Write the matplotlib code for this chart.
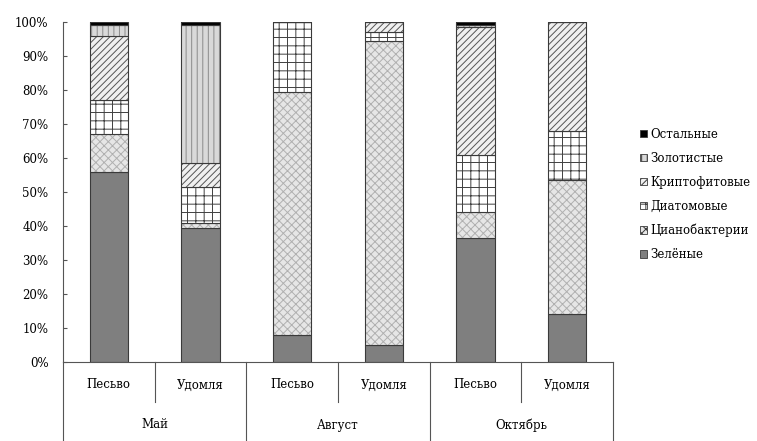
import matplotlib
matplotlib.use("Agg")
import matplotlib.pyplot as plt
import matplotlib.transforms as mtransforms
from matplotlib.patches import Patch
import numpy as np

plt.rcParams['font.family'] = ['DejaVu Serif', 'Liberation Serif']
plt.rcParams['hatch.linewidth'] = 0.7

months = ["Май", "Август", "Октябрь"]
sites = ["Песьво", "Удомля", "Песьво", "Удомля", "Песьво", "Удомля"]

series_names = ["Зелёные", "Цианобактерии", "Диатомовые", "Криптофитовые", "Золотистые", "Остальные"]
green = [56, 39.5, 8, 5, 36.5, 14]
cyano = [11, 1.5, 71.5, 89.5, 7.5, 39.5]
diatoms = [10, 10.5, 20.5, 2.5, 17, 14.5]
crypto = [19, 7, 0, 3, 37.5, 32]
golden = [3, 40.5, 0, 0, 0.5, 0]
others = [1, 1, 0, 0, 1, 0]

series = [green, cyano, diatoms, crypto, golden, others]
styles = [
    dict(facecolor="#7f7f7f", hatch=None, hcolor="#5a5a5a"),
    dict(facecolor="#e6e6e6", hatch="xxxx", hcolor="#b0b0b0"),
    dict(facecolor="#ffffff", hatch="++", hcolor="#404040"),
    dict(facecolor="#f0f0f0", hatch="/////", hcolor="#555555"),
    dict(facecolor="#d9d9d9", hatch="|||", hcolor="#8a8a8a"),
    dict(facecolor="#000000", hatch=None, hcolor="#000000"),
]

fs = 8.5
fig = plt.figure(figsize=(7.57, 4.41), dpi=100)
ax = fig.add_axes([63 / 757, 1 - 362 / 441, (613 - 63) / 757, (362 - 22) / 441])

x = np.arange(len(sites))
width = 0.42
bottom = np.zeros(len(sites))
for vals, st in zip(series, styles):
    v = np.array(vals, dtype=float)
    ax.bar(x, v, width, bottom=bottom, color=st["facecolor"], hatch=st["hatch"],
           edgecolor=st["hcolor"], linewidth=0)
    ax.bar(x, v, width, bottom=bottom, fill=False, edgecolor="#3a3a3a", linewidth=0.8)
    bottom += v

ax.set_xlim(-0.5, len(sites) - 0.5)
ax.set_ylim(0, 100)
ax.set_yticks(np.arange(0, 101, 10))
ax.set_yticklabels([f"{t}%" for t in range(0, 101, 10)], fontsize=fs)
ax.tick_params(axis='y', direction='in', length=3, width=0.8, color="#555555", pad=10.5)
ax.set_xticks([])
for s in ["top", "right"]:
    ax.spines[s].set_visible(False)
for s in ["left", "bottom"]:
    ax.spines[s].set_color("#555555")
    ax.spines[s].set_linewidth(0.8)

# two-level category axis
trans = mtransforms.blended_transform_factory(ax.transData, ax.transAxes)
h = 340.0
short = -40 / h
long_ = -80 / h
for i in range(len(sites)):
    ax.text(i, -23 / h, sites[i], transform=trans, ha="center", va="center",
            fontsize=fs, clip_on=False)
for k in range(len(months)):
    ax.plot([2 * k + 0.5, 2 * k + 0.5], [0, short], transform=trans, color="#555555",
            lw=0.8, clip_on=False)
    ax.text(2 * k + 0.5, -63 / h, months[k], transform=trans, ha="center",
            va="center", fontsize=fs, clip_on=False)
for b in [-0.5, 1.5, 3.5, 5.5]:
    ax.plot([b, b], [0, long_], transform=trans, color="#555555", lw=0.8, clip_on=False)

handles = []
for name, st in zip(series_names, styles):
    handles.append(Patch(facecolor=st["facecolor"], hatch=st["hatch"],
                         edgecolor="#3a3a3a", linewidth=0.6, label=name))
fig.legend(handles[::-1], series_names[::-1], loc="center left",
           bbox_to_anchor=(640 / 757, 1 - 194.5 / 441), frameon=False,
           fontsize=fs, handlelength=0.6, handleheight=0.6, handletextpad=0.3,
           labelspacing=0.93, borderpad=0, borderaxespad=0)

fig.savefig("out.png", dpi=100)
